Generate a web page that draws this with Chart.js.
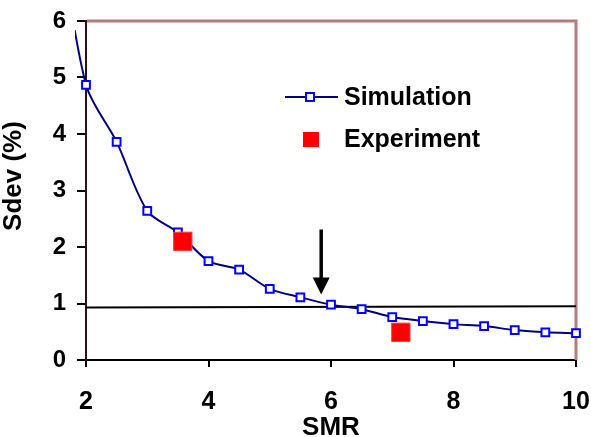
<!DOCTYPE html>
<html>
<head>
<meta charset="utf-8">
<script src="https://cdn.jsdelivr.net/npm/chart.js@4"></script>
<style>
  body { margin: 0; background: #fff; }
</style>
</head>
<body>
<canvas id="chart" width="591" height="437"></canvas>
<script>
// values
const simX = [1.5, 2, 2.5, 3, 3.5, 4, 4.5, 5, 5.5, 6, 6.5, 7, 7.5, 8, 8.5, 9, 9.5, 10];
const simY = [8.0, 4.87, 3.86, 2.64, 2.26, 1.75, 1.6, 1.26, 1.11, 0.98, 0.9, 0.76, 0.69, 0.635, 0.6, 0.53, 0.49, 0.475];
const expX = [3.58, 7.14];
const expY = [2.1, 0.49];
const limitX = [2, 10];
const limitY = [0.93, 0.95];
const arrowX = 5.84;
const arrowFrom = 2.31;
const arrowTo = 1.16;
const xRange = [2, 10];
const yRange = [0, 6];

const FONT = "'Liberation Sans', Arial, sans-serif";
const toPoints = (xs, ys) => xs.map((x, i) => ({ x, y: ys[i] }));

const frame = {
  id: "frame",
  beforeDatasetsDraw(chart) {
    const { ctx, chartArea: a } = chart;
    ctx.save();
    ctx.strokeStyle = "#b37c7c";
    ctx.lineWidth = 3;
    ctx.beginPath();
    ctx.moveTo(a.left + 1, a.top);
    ctx.lineTo(a.right, a.top);
    ctx.lineTo(a.right, a.bottom);
    ctx.stroke();
    ctx.restore();
  },
};

const extras = {
  id: "extras",
  afterDraw(chart) {
    const { ctx, scales } = chart;
    ctx.save();
    // arrow
    const ax = scales.x.getPixelForValue(arrowX);
    const top = scales.y.getPixelForValue(arrowFrom);
    const tip = scales.y.getPixelForValue(arrowTo);
    ctx.strokeStyle = "#000";
    ctx.lineWidth = 3.5;
    ctx.beginPath();
    ctx.moveTo(ax, top);
    ctx.lineTo(ax, tip - 14);
    ctx.stroke();
    ctx.fillStyle = "#000";
    ctx.beginPath();
    ctx.moveTo(ax - 8.5, tip - 17);
    ctx.lineTo(ax + 8.5, tip - 17);
    ctx.lineTo(ax, tip);
    ctx.closePath();
    ctx.fill();

    // legend
    ctx.strokeStyle = "#000080";
    ctx.lineWidth = 2;
    ctx.beginPath();
    ctx.moveTo(285, 97);
    ctx.lineTo(338, 97);
    ctx.stroke();
    ctx.fillStyle = "#fff";
    ctx.strokeStyle = "#0000ff";
    ctx.fillRect(306, 93, 8, 8);
    ctx.strokeRect(306, 93, 8, 8);
    ctx.fillStyle = "#ff0000";
    ctx.fillRect(303, 132, 16, 15);
    ctx.fillStyle = "#000";
    ctx.font = "bold 25px " + FONT;
    ctx.textBaseline = "middle";
    ctx.fillText("Simulation", 344, 98);
    ctx.fillText("Experiment", 344, 140);

    // y axis title
    ctx.translate(14, 176);
    ctx.rotate(-Math.PI / 2);
    ctx.textAlign = "center";
    ctx.font = "bold 26px " + FONT;
    ctx.fillText("Sdev (%)", 0, 0);
    ctx.restore();
  },
};

new Chart(document.getElementById("chart"), {
  type: "line",
  data: {
    datasets: [
      {
        label: "Experiment",
        data: toPoints(expX, expY),
        showLine: false,
        pointStyle: "rect",
        pointRadius: 13,
        pointBackgroundColor: "#ff0000",
        pointBorderColor: "#ff4040",
        pointBorderWidth: 1,
        clip: 12,
      },
      {
        label: "Simulation",
        data: toPoints(simX, simY),
        borderColor: "#000080",
        borderWidth: 2,
        tension: 0.3,
        pointStyle: "rect",
        pointRadius: (c) => (simX[c.dataIndex] < xRange[0] ? 0 : 5.5),
        pointBackgroundColor: "#fff",
        pointBorderColor: "#0000ff",
        pointBorderWidth: 2,
        clip: { left: 11, top: -9, right: 10, bottom: 10 },
      },
      {
        label: "limit",
        data: toPoints(limitX, limitY),
        borderColor: "#000",
        borderWidth: 2,
        pointRadius: 0,
      },
    ],
  },
  options: {
    responsive: false,
    animation: false,
    events: [],
    layout: { padding: { top: 21, right: 15, left: 0, bottom: 0 } },
    plugins: { legend: { display: false }, tooltip: { enabled: false } },
    scales: {
      x: {
        type: "linear",
        min: xRange[0],
        max: xRange[1],
        afterFit: (s) => {
          s.height = 77;
          s.paddingLeft = 0;
          s.paddingRight = 0;
        },
        ticks: {
          stepSize: 2,
          padding: 20,
          color: "#000",
          font: { family: FONT, size: 25, weight: "bold" },
        },
        grid: { drawOnChartArea: false, tickLength: 7, color: "#000", lineWidth: 2 },
        border: { color: "#000", width: 2 },
        title: {
          display: true,
          text: "SMR",
          color: "#000",
          padding: 0,
          font: { family: FONT, size: 26, weight: "bold", lineHeight: 0.7 },
        },
      },
      y: {
        min: yRange[0],
        max: yRange[1],
        afterFit: (s) => {
          s.width = 86;
          s.paddingTop = 0;
          s.paddingBottom = 0;
        },
        ticks: {
          stepSize: 1,
          padding: 11,
          color: "#000",
          font: { family: FONT, size: 24, weight: "bold" },
        },
        grid: { drawOnChartArea: false, tickLength: 9, color: "#000", lineWidth: 2 },
        border: { color: "#301010", width: 2 },
      },
    },
  },
  plugins: [frame, extras],
});
</script>
</body>
</html>
